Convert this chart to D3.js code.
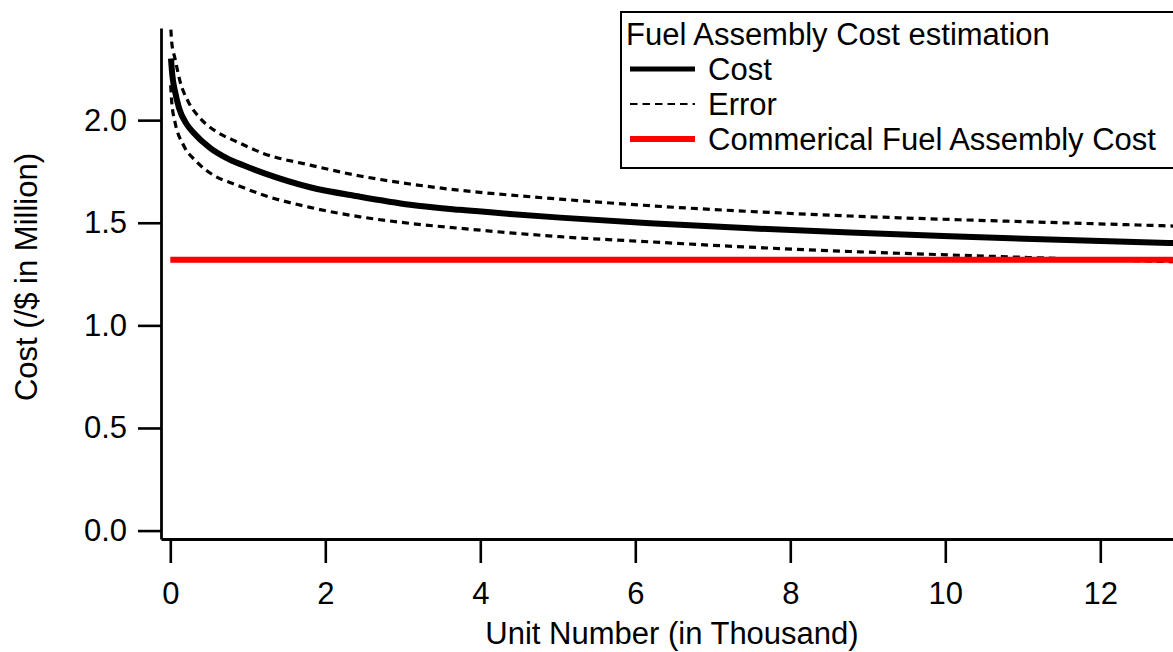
<!DOCTYPE html>
<html>
<head>
<meta charset="utf-8">
<title>Fuel Assembly Cost estimation</title>
<script src="https://cdn.jsdelivr.net/npm/d3@7/dist/d3.min.js"></script>
<style>
  html, body { margin: 0; padding: 0; background: #fff; }
  svg { display: block; }
  text { font-family: "Liberation Sans", Arial, Helvetica, sans-serif; fill: #000; }
</style>
</head>
<body>
<svg id="chart" width="1173" height="652"></svg>
<script>
// Learning-curve cost estimate (x in thousands of units, cost in $ million)
const costUnits = [0.009, 0.026, 0.061, 0.112, 0.212, 0.297, 0.512, 0.728, 0.942, 1.244, 1.803, 2.448, 3.093, 3.738, 4.383, 5.028, 6.19, 7.48, 8.77, 10.06, 11.13, 12.94];
const costValues = [2.30, 2.22, 2.14, 2.06, 1.98, 1.94, 1.865, 1.815, 1.78, 1.737, 1.673, 1.627, 1.588, 1.563, 1.543, 1.525, 1.498, 1.473, 1.452, 1.434, 1.421, 1.401];

// Upper error bound
const upperUnits = [0.0, 0.018, 0.061, 0.125, 0.232, 0.383, 0.599, 0.857, 1.2, 1.803, 2.448, 3.093, 3.738, 4.383, 5.028, 6.19, 7.48, 8.77, 10.06, 11.13, 12.94];
const upperValues = [2.50, 2.38, 2.30, 2.19, 2.09, 2.01, 1.943, 1.895, 1.838, 1.781, 1.728, 1.689, 1.658, 1.635, 1.615, 1.583, 1.555, 1.533, 1.516, 1.504, 1.484];

// Lower error bound
const lowerUnits = [0.005, 0.018, 0.061, 0.168, 0.341, 0.555, 0.857, 1.2, 1.803, 2.448, 3.093, 3.738, 4.383, 5.028, 6.19, 7.48, 8.77, 10.06, 11.05, 12.94];
const lowerValues = [2.17, 2.09, 1.99, 1.88, 1.797, 1.732, 1.684, 1.635, 1.575, 1.529, 1.497, 1.473, 1.451, 1.432, 1.407, 1.381, 1.360, 1.343, 1.331, 1.310];

// Commercial fuel assembly cost (flat reference)
const commercialUnits = [0, 12.97];
const commercialCost = 1.32;

// Axis ticks
const xTicks = [0, 2, 4, 6, 8, 10, 12];
const yTicks = [0.0, 0.5, 1.0, 1.5, 2.0];

// Legend entries
const legendTitle = "Fuel Assembly Cost estimation";
const legendLabels = ["Cost", "Error", "Commerical Fuel Assembly Cost"];

(function draw() {
  const svg = d3.select("#chart");
  const plotLeft = 161, plotRight = 1175, plotTop = 28, plotBottom = 539;
  const fontSize = 31;

  const x = d3.scaleLinear().domain([-0.12, 12.964]).range([plotLeft, plotRight]);
  const y = d3.scaleLinear().domain([-0.041, 2.449]).range([plotBottom, plotTop]);

  svg.append("rect").attr("width", 1173).attr("height", 652).attr("fill", "#fff");

  svg.append("defs").append("clipPath").attr("id", "plotClip")
    .append("rect").attr("x", plotLeft).attr("y", plotTop)
    .attr("width", plotRight - plotLeft).attr("height", plotBottom - plotTop);

  const plot = svg.append("g").attr("clip-path", "url(#plotClip)");

  const line = d3.line()
    .x(d => x(d[0]))
    .y(d => y(d[1]))
    .curve(d3.curveMonotoneX);

  const zip = (a, b) => a.map((v, i) => [v, b[i]]);

  // error bounds
  [zip(upperUnits, upperValues), zip(lowerUnits, lowerValues)].forEach(pts => {
    plot.append("path")
      .attr("d", line(pts))
      .attr("fill", "none")
      .attr("stroke", "#000")
      .attr("stroke-width", 3.2)
      .attr("stroke-dasharray", "7,5");
  });

  // cost curve
  plot.append("path")
    .attr("d", line(zip(costUnits, costValues)))
    .attr("fill", "none")
    .attr("stroke", "#000")
    .attr("stroke-width", 6);

  // commercial reference
  plot.append("path")
    .attr("d", line(commercialUnits.map(u => [u, commercialCost])))
    .attr("fill", "none")
    .attr("stroke", "#ff0000")
    .attr("stroke-width", 6);

  // axes
  const xAxis = svg.append("g")
    .attr("transform", `translate(0,${plotBottom})`)
    .call(d3.axisBottom(x).tickValues(xTicks).tickSize(24).tickSizeOuter(0).tickPadding(19)
      .tickFormat(d3.format("d")));

  const yAxis = svg.append("g")
    .attr("transform", `translate(${plotLeft},0)`)
    .call(d3.axisLeft(y).tickValues(yTicks).tickSize(23).tickSizeOuter(0).tickPadding(11)
      .tickFormat(d3.format(".1f")));

  [xAxis, yAxis].forEach(g => {
    g.select(".domain").attr("stroke", "#000").attr("stroke-width", 2.8);
    g.selectAll(".tick line").attr("stroke", "#000").attr("stroke-width", 2.6);
    g.selectAll(".tick text")
      .attr("font-size", fontSize)
      .attr("font-family", "Liberation Sans, Arial, Helvetica, sans-serif")
      .attr("fill", "#000");
  });

  svg.append("text")
    .attr("x", 672).attr("y", 644)
    .attr("text-anchor", "middle")
    .attr("font-size", fontSize)
    .text("Unit Number (in Thousand)");

  svg.append("text")
    .attr("transform", "translate(37,277) rotate(-90)")
    .attr("text-anchor", "middle")
    .attr("font-size", fontSize)
    .text("Cost (/$ in Million)");

  // legend
  const legend = svg.append("g").attr("transform", "translate(621,12)");
  legend.append("rect")
    .attr("x", 0).attr("y", 0)
    .attr("width", 600).attr("height", 156)
    .attr("fill", "#fff")
    .attr("stroke", "#000")
    .attr("stroke-width", 2);

  const rowBase = [33, 68, 103, 138];
  legend.append("text")
    .attr("x", 5).attr("y", rowBase[0])
    .attr("font-size", fontSize)
    .text(legendTitle);

  const sampleStyles = [
    { stroke: "#000", width: 5, dash: null },
    { stroke: "#000", width: 2.2, dash: "7.5,5" },
    { stroke: "#ff0000", width: 6, dash: null }
  ];

  legendLabels.forEach((label, i) => {
    const base = rowBase[i + 1];
    const st = sampleStyles[i];
    legend.append("line")
      .attr("x1", 9).attr("x2", 74)
      .attr("y1", base - 11).attr("y2", base - 11)
      .attr("stroke", st.stroke)
      .attr("stroke-width", st.width)
      .attr("stroke-dasharray", st.dash);
    legend.append("text")
      .attr("x", 87).attr("y", base)
      .attr("font-size", fontSize)
      .text(label);
  });
})();
</script>
</body>
</html>
